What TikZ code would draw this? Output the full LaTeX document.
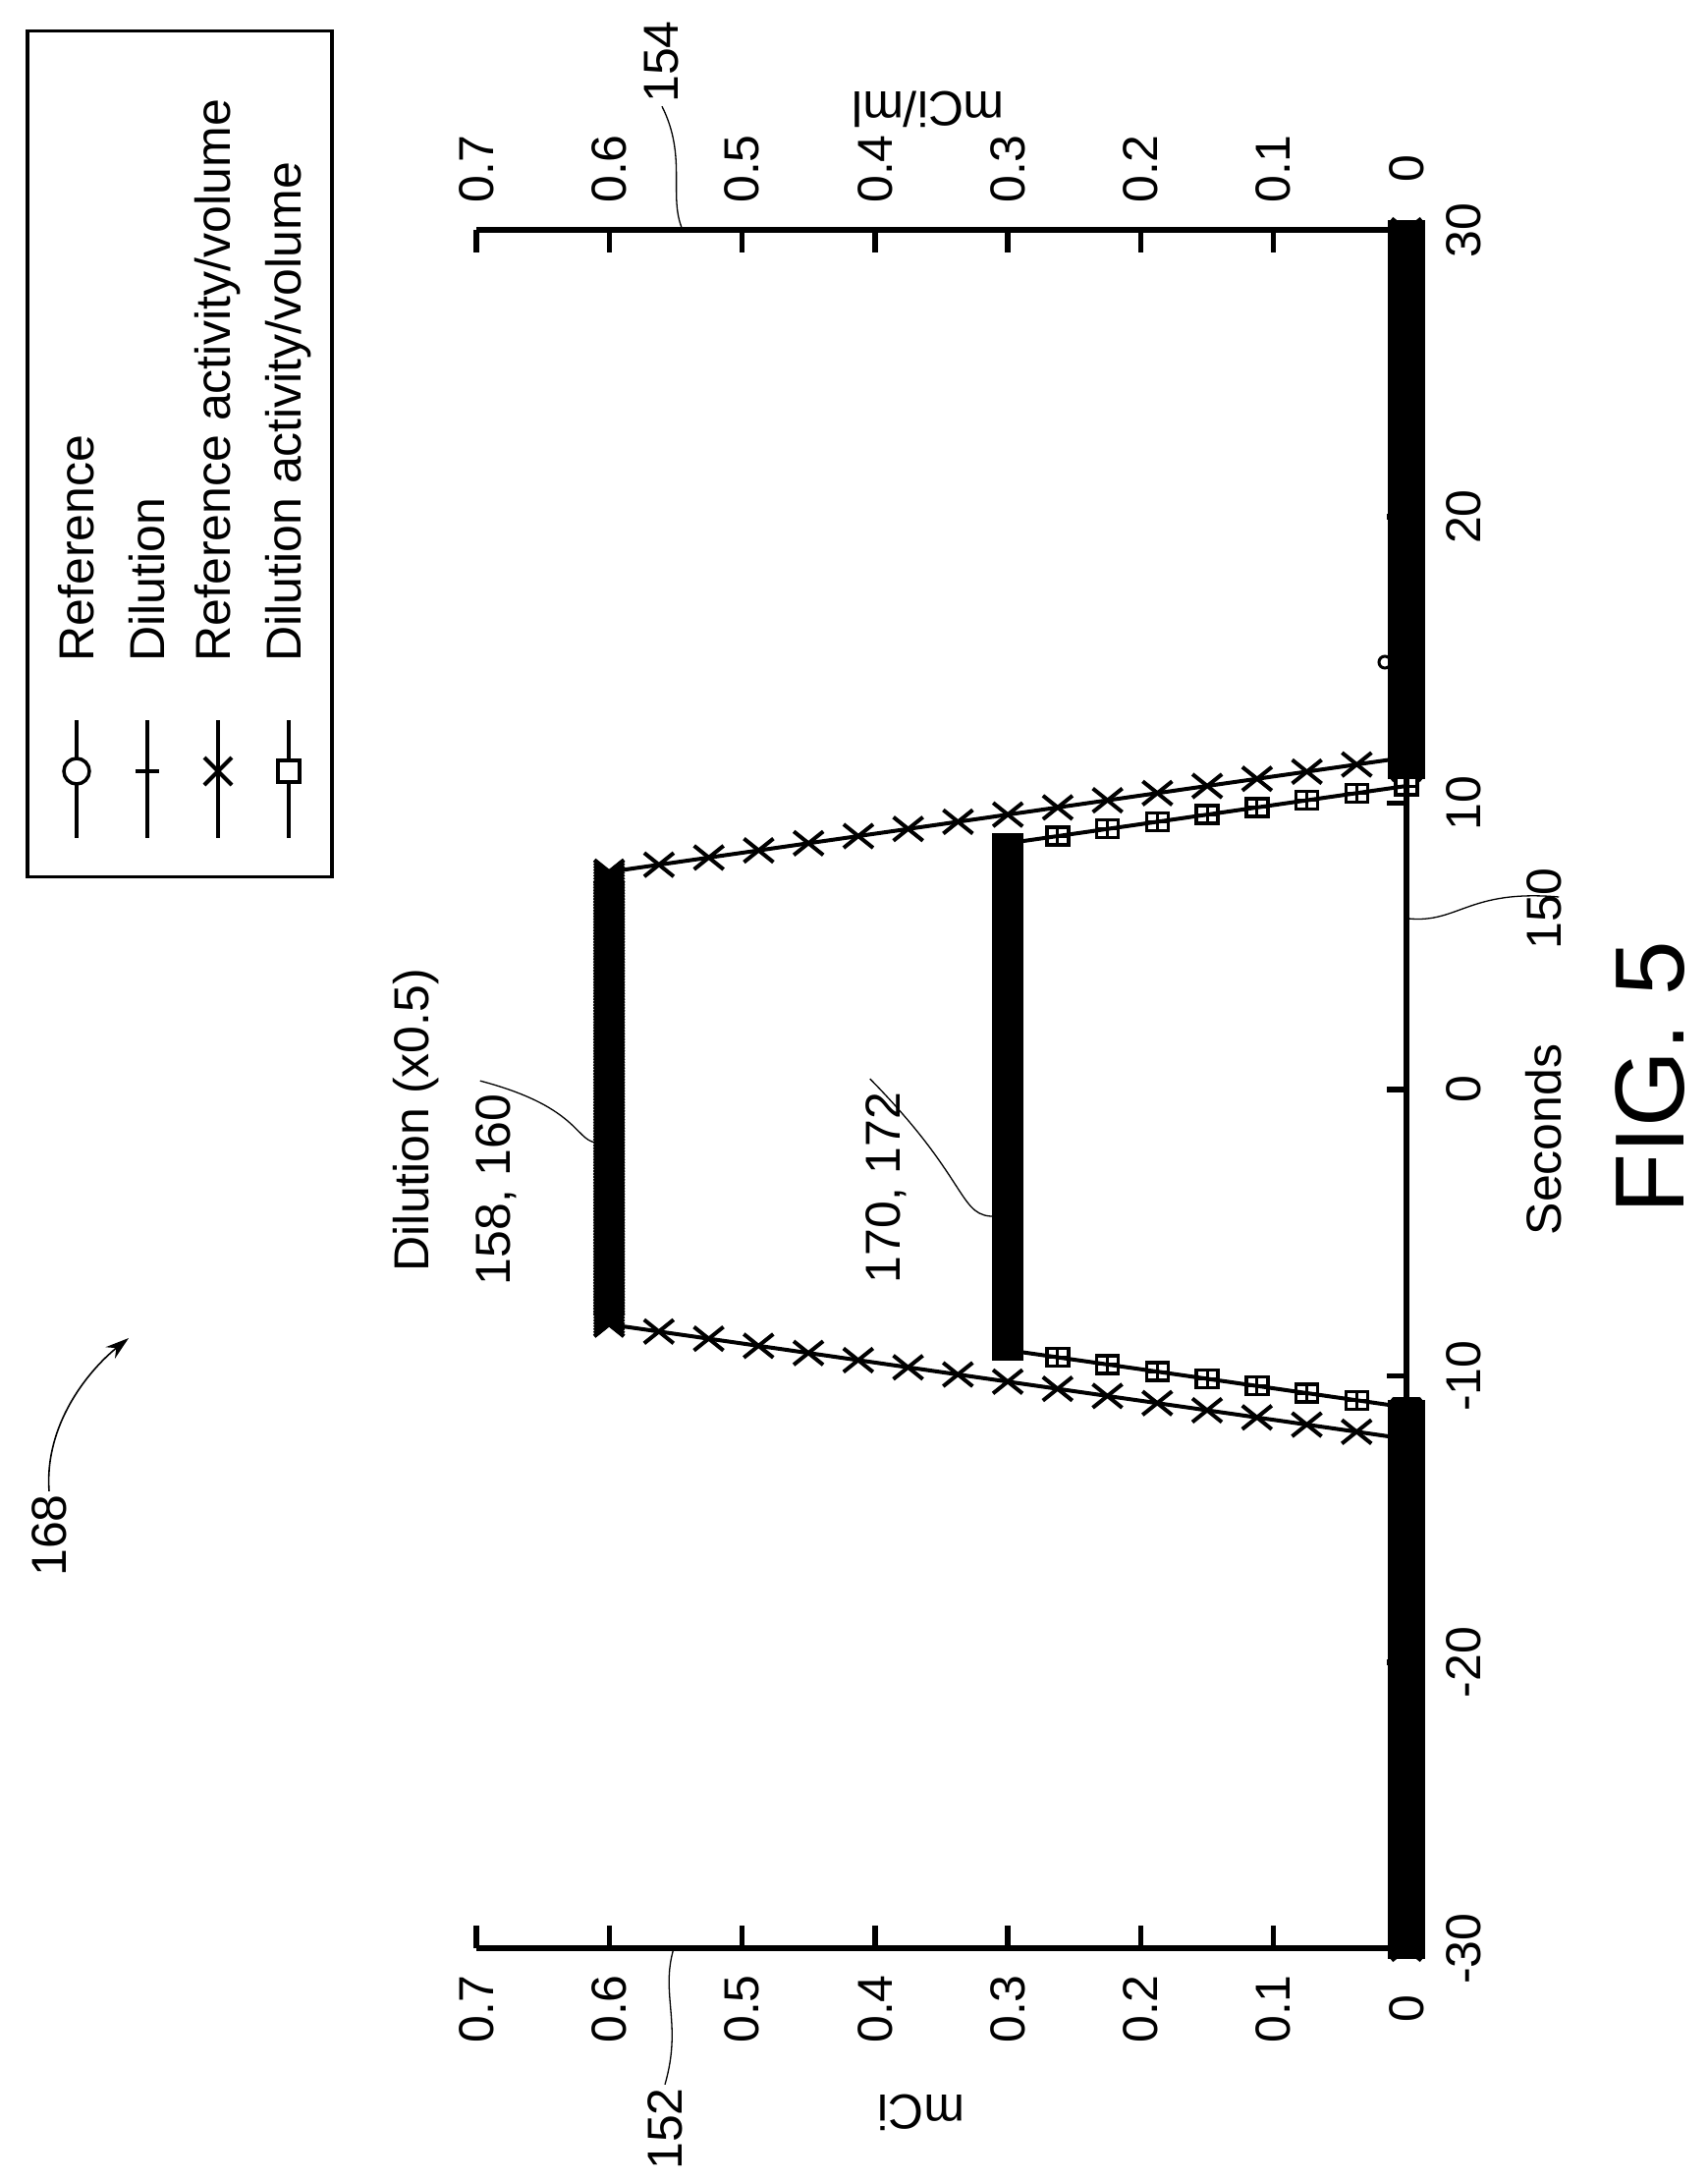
\documentclass[tikz,border=0pt]{standalone}
\usepackage{fontspec}
\setmainfont{Liberation Sans}
\usetikzlibrary{shapes.misc,arrows.meta}
\tikzset{
    declare function={px(\v)=1432-1353*\v; py(\t)=1109-29.15*\t;},
    XM/.style ={cross out, draw, line width=4pt, minimum width=26pt, minimum height=20pt, inner sep=0pt},
    SQ/.style ={rectangle, draw, line width=3.5pt, minimum width=22pt, minimum height=18pt, inner sep=0pt,
        path picture={\draw[line width=3pt] (path picture bounding box.north)--(path picture bounding box.south)
        (path picture bounding box.west)--(path picture bounding box.east);}},
    AX/.style ={line width=5.5pt},
    TK/.style ={font=\fontsize{50}{56}\selectfont, rotate=90},
    LD/.style ={line width=1.3pt},
    DL/.style ={line width=4pt}}

\begin{document}
\begin{tikzpicture}[x=1pt,y=-1pt]
        \useasboundingbox (0,0) rectangle (1739,2221);
        % axes
        \coordinate (o1) at (1432,1983);
        \coordinate (o2) at (1432,234);
        \coordinate (t1) at (485,1983);
        \coordinate (t2) at (485,234);
        \draw[AX] (t1) -- (o1) -- (o2) -- (t2);
        \foreach \v in {0.1,0.2,...,0.7}{
            \draw[AX] ({px(\v)},1983) -- ({px(\v)},1960);
            \draw[AX] ({px(\v)},234) -- ({px(\v)},257);}
        \foreach \t in {-20,-10,0,10,20}
            \draw[AX] (1432,{py(\t)}) -- (1412,{py(\t)});
        \foreach \v in {0,0.1,0.2,0.3,0.4,0.5,0.6,0.7}{
            \node[TK] at ({px(\v)},2045) {\v};
            \node[TK] at ({px(\v)},172) {\v};}
        \foreach \t in {-30,-20,-10,0,10,20,30}
            \node[TK] at (1490,{py(\t)}) {\t};
        \node[TK, rotate=90] (mci) at (938,2150) {mCi};
        \node[TK, rotate=90] (mciml) at (945,111) {mCi/ml};
        \node[TK] (sec) at (1572,1160) {Seconds};
        \node[TK] (fig) at (1680,1097) {\fontsize{100}{110}\selectfont FIG. 5};
        % data lines
        \draw[DL] ({px(0)},{py(-30)}) -- ({px(0)},{py(-12.2)}) -- ({px(0.6)},{py(-8.2)})
            -- ({px(0.6)},{py(7.6)}) -- ({px(0)},{py(11.6)}) -- ({px(0)},{py(30)});
        \draw[DL] ({px(0)},{py(-11.1)}) -- ({px(0.3)},{py(-9.1)})
            -- ({px(0.3)},{py(8.6)}) -- ({px(0)},{py(10.6)});
        \foreach \i in {0,...,16}{
            \node[XM] at ({px(0.0375*\i)},{py(-12.2+0.25*\i)}) {};
            \node[XM] at ({px(0.6-0.0375*\i)},{py(7.6+0.25*\i)}) {};}
        \foreach \i in {0,...,8}{
            \node[SQ] at ({px(0.0375*\i)},{py(-11.1+0.25*\i)}) {};
            \node[SQ] at ({px(0.3-0.0375*\i)},{py(8.6+0.25*\i)}) {};}
        \foreach \i in {0,...,158}
            \node[XM] at ({px(0.6)},{py(-8.2+0.1*\i)}) {};
        \foreach \i in {0,...,177}
            \node[SQ, minimum width=28pt] at ({px(0.3)},{py(-9.1+0.1*\i)}) {};
        \foreach \i in {0,...,188}{
            \node[XM] at ({px(0)},{py(-30+0.1*\i)}) {};
            \node[XM] at ({px(0)},{py(11.2+0.1*\i)}) {};
            \node[SQ, minimum width=34pt] at ({px(0)},{py(-30+0.1*\i)}) {};
            \node[SQ, minimum width=34pt] at ({px(0)},{py(11.2+0.1*\i)}) {};}
        \node[circle, draw, line width=3pt, minimum size=12pt, inner sep=0pt] (dot) at (1410,674) {};
        % labels and leaders
        \node[TK] (l152) at (677,2167) {152};
        \coordinate (a152) at (686,1983);
        \draw[LD] (l152.east) .. controls (695,2060) and (672,2030) .. (a152);
        \node[TK] (l154) at (674,63) {154};
        \coordinate (a154) at (695,234);
        \draw[LD] (l154.west) .. controls (700,160) and (680,200) .. (a154);
        \node[TK] (l150) at (1572,925) {150};
        \coordinate (a150) at (1434,935);
        \draw[LD] (l150.south) ++(-6,-12) .. controls (1495,905) and (1485,940) .. (a150);
        \node[TK] (dil) at (424,1140) {Dilution (x0.5)};
        \node[TK] (l158) at (505,1211) {158, 160};
        \coordinate (a158) at (611,1163);
        \draw[LD] (l158.north east) ++(8,-10) .. controls (595,1128) and (585,1165) .. (a158);
        \node[TK] (l170) at (902,1209) {170, 172};
        \coordinate (a170) at (1015,1238);
        \draw[LD] (l170.north east) ++(8,-10) .. controls (990,1204) and (975,1240) .. (a170);
        \node[TK] (l168) at (50,1563) {168};
        \coordinate (a168) at (131,1362);
        \draw[LD, line width=1.6pt, -{Stealth[length=24pt,width=15pt]}] (l168.east) .. controls (45,1450) and (90,1395) .. (a168);
        % legend
        \node[draw, line width=3.5pt, minimum width=310pt, minimum height=861pt, inner sep=0pt] (leg) at (183,462) {};
        \foreach \x/\txt in {78/Reference,150/Dilution,222/Reference activity\slash volume,294/Dilution activity\slash volume}{
            \draw[line width=3.5pt] (\x,733) -- (\x,853);
            \node[TK, anchor=west] at (\x,677) {\txt};}
        \node[circle, draw, fill=white, line width=3.5pt, minimum size=26pt, inner sep=0pt] at (78,785) {};
        \draw[line width=3.5pt] (138,785) -- (162,785);
        \node[XM, minimum width=24pt, minimum height=24pt] at (222,785) {};
        \node[rectangle, draw, fill=white, line width=3.5pt, minimum size=22pt, inner sep=0pt] at (294,785) {};
\end{tikzpicture}
\end{document}
